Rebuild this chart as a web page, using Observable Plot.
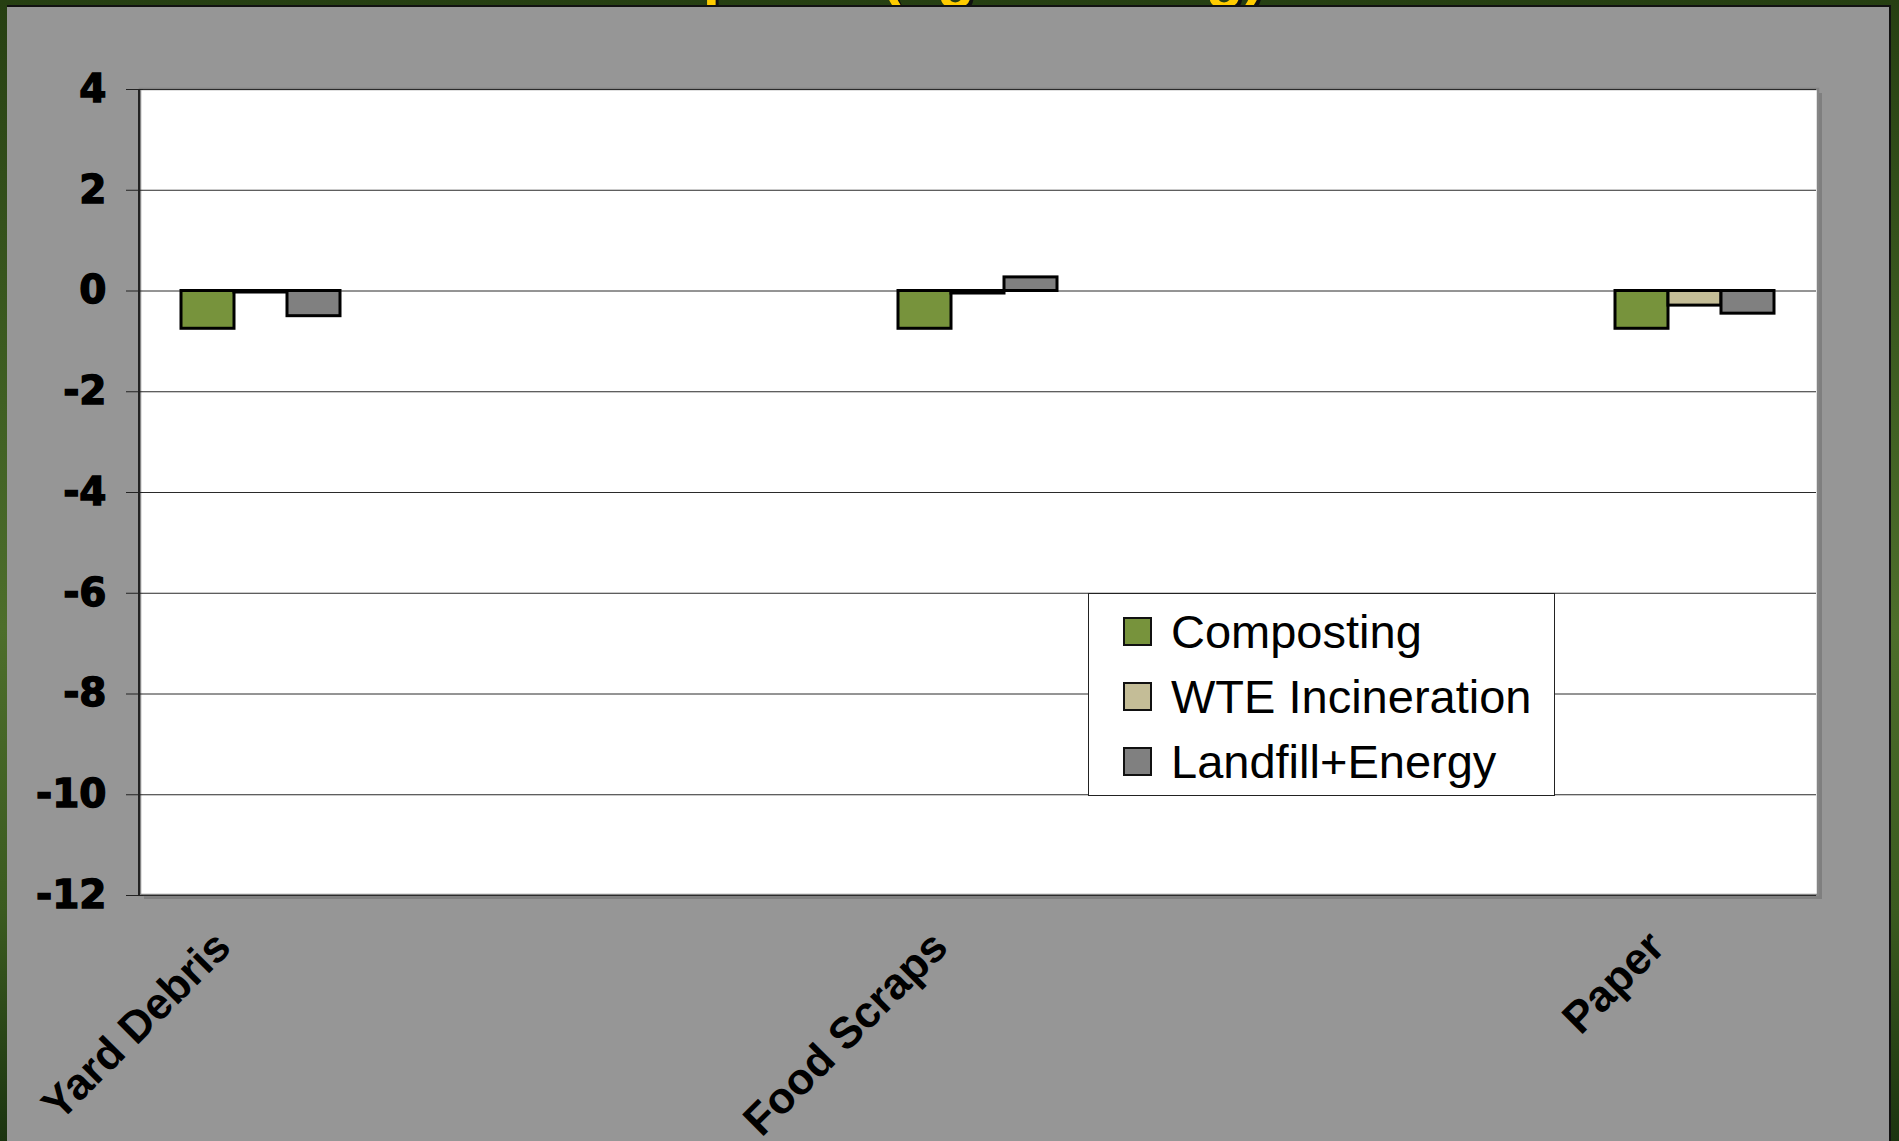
<!DOCTYPE html>
<html>
<head>
<meta charset="utf-8">
<script src="https://cdn.jsdelivr.net/npm/d3@7"></script>
<script src="https://cdn.jsdelivr.net/npm/@observablehq/plot@0.6"></script>
<style>
  html, body { margin: 0; padding: 0; width: 1899px; height: 1141px; overflow: hidden; }
  body {
    position: relative;
    background: linear-gradient(180deg, #263f12 0%, #3f5f22 35%, #4d6e2b 55%, #3a5a1f 80%, #1b3410 100%);
    font-family: "Liberation Sans", Arial, sans-serif;
  }
  #title {
    position: absolute; left: -140px; width: 1899px; top: -57px;
    text-align: center; font: bold 62px/62px "Liberation Sans", Arial, sans-serif;
    color: #ffcc00; text-shadow: 3px 3px 0 #111; white-space: nowrap;
  }
  #panel {
    position: absolute; left: 7px; top: 5px; width: 1884px; height: 1200px;
    background: #969696; border-top: 2px solid #111; border-right: 2px solid #111;
    box-sizing: border-box;
  }
  #chart { position: absolute; left: 0; top: 0; }
  #legend {
    position: absolute; left: 1088px; top: 593px; width: 467px; height: 203px;
    background: #fff; border: 1.5px solid #222; box-sizing: border-box;
  }
  .item { position: absolute; left: 34px; height: 50px; display: flex; align-items: center; }
  .sw { width: 29px; height: 29px; box-sizing: border-box; border: 2.5px solid #111; margin-right: 19px; }
  .lbl { font: 47px "Liberation Sans", Arial, sans-serif; color: #000; white-space: nowrap; }
</style>
</head>
<body>
<div id="title">Net GHG Impacts (kg CO₂E/kg)</div>
<div id="panel"></div>
<div id="chart"></div>
<div id="legend"></div>
<script>
// ---- data ----
const categories = ["Yard Debris", "Food Scraps", "Paper"];
// category slots along the x axis (unlabelled slots between the three categories)
const slots = ["Yard Debris", "slot2", "slot3", "Food Scraps", "slot5", "slot6", "Paper"];
const series = ["Composting", "WTE Incineration", "Landfill+Energy"];
const composting = [-0.75, -0.75, -0.75];
const wteIncineration = [-0.03, -0.05, -0.29];
const landfillEnergy = [-0.5, 0.27, -0.45];
const seriesColors = ["#77933c", "#c4bd97", "#808080"];
const yTicks = [4, 2, 0, -2, -4, -6, -8, -10, -12];

const valuesBySeries = [composting, wteIncineration, landfillEnergy];
const data = categories.flatMap((c, i) =>
  series.map((s, j) => ({category: c, series: s, value: valuesBySeries[j][i]}))
);
// gridlines for every slot so that all slots are drawn
const gridData = slots.flatMap(s => yTicks.map(t => ({slot: s, tick: t})));

const plot = Plot.plot({
  width: 1899,
  height: 1141,
  marginLeft: 140,
  marginRight: 81,
  marginTop: 89,
  marginBottom: 246,
  style: {background: "transparent", overflow: "visible"},
  fx: {domain: slots, padding: 0},
  x: {domain: series, paddingInner: 0, paddingOuter: 0.75, axis: null},
  y: {domain: [-12, 4]},
  color: {domain: series, range: seriesColors},
  marks: [
    Plot.ruleY(gridData, {fx: "slot", y: "tick", stroke: "#2a2a2a", strokeWidth: 1}),
    Plot.barY(data, {fx: "category", x: "series", y: "value", fill: "series", stroke: "#000", strokeWidth: 3, dx: -2}),
    Plot.axisY(yTicks, {
      tickSize: 17, tickPadding: 20, stroke: "#222",
      fontSize: 39, fontWeight: "bold", fontFamily: "DejaVu Sans", fill: "#000",
      tickFormat: d => String(d).replace("−", "-"), label: null
    }),
    Plot.axisFx({
      anchor: "bottom", tickRotate: -45, tickSize: 0, tickPadding: 44, dx: -40,
      fontSize: 44, fontWeight: "bold", fontFamily: "Liberation Sans", fill: "#000",
      tickFormat: d => categories.includes(d) ? d : "", label: null
    })
  ]
});

// plot-area background, shadow and left axis line, placed from the library's scales
const svgSel = d3.select(plot);
const fxRange = plot.scale("fx").range;
const yRange = plot.scale("y").range;
const pLeft = Math.min(...fxRange), pRight = Math.max(...fxRange);
const pTop = Math.min(...yRange), pBottom = Math.max(...yRange);
const bg = svgSel.insert("g", ":first-child");
bg.append("rect").attr("x", pLeft + 4).attr("y", pTop + 4).attr("width", pRight - pLeft).attr("height", pBottom - pTop).attr("fill", "#7f7f7f");
bg.append("rect").attr("x", pLeft).attr("y", pTop).attr("width", pRight - pLeft).attr("height", pBottom - pTop)
  .attr("fill", "#fff").attr("stroke", "#858585").attr("stroke-width", 2.5);
svgSel.append("line").attr("x1", pLeft - 1).attr("x2", pLeft - 1).attr("y1", pTop).attr("y2", pBottom)
  .attr("stroke", "#222").attr("stroke-width", 2);
// heavier y tick labels
svgSel.selectAll('g[aria-label="y-axis tick label"] text')
  .attr("stroke", "#000").attr("stroke-width", 1.4);

document.getElementById("chart").appendChild(plot);

// legend
const legend = d3.select("#legend");
const rowTops = [12, 77, 142];
series.forEach((s, i) => {
  const item = legend.append("div").attr("class", "item").style("top", rowTops[i] + "px");
  item.append("div").attr("class", "sw").style("background", seriesColors[i]);
  item.append("div").attr("class", "lbl").text(s);
});
</script>
</body>
</html>
